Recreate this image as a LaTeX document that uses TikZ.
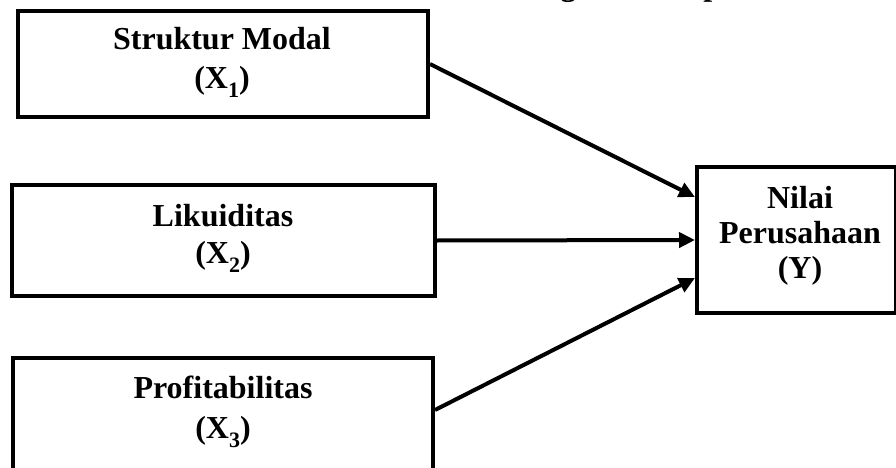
\documentclass[tikz,border=0pt]{standalone}
\usepackage{fontspec}
\setmainfont{Liberation Serif}
\usetikzlibrary{arrows.meta}
\newcommand{\mysub}[1]{\raisebox{-9pt}{\fontsize{22}{22}\selectfont #1}}
\begin{document}
\begin{tikzpicture}[x=1pt,y=-1pt,
  box/.style={draw,line width=4pt,inner sep=0pt},
  txt/.style={align=center,inner sep=0pt,font=\bfseries\fontsize{32}{#1}\selectfont},
  arr/.style={line width=4pt,-{Triangle[length=16pt,width=15pt]}}]
\useasboundingbox (0,0) rectangle (896,468);
\clip (0,0) rectangle (896,468);
\node[txt=38,anchor=base west] (title) at (473,-4.6) {Kerangka Konseptual};
\node[box,minimum width=410pt,minimum height=106pt] (b1) at (223,64) {};
\node[box,minimum width=423pt,minimum height=111pt] (b2) at (223.5,240.5) {};
\node[box,minimum width=420pt,minimum height=162pt] (b3) at (223,439) {};
\node[box,minimum width=199pt,minimum height=146pt] (y) at (796.5,240) {};
\node[txt=39] (t1) at (222,62) {Struktur Modal\\(X\mysub{1})};
\node[txt=37] (t2) at (223,238) {Likuiditas\\(X\mysub{2})};
\node[txt=40] (t3) at (223,411.5) {Profitabilitas\\(X\mysub{3})};
\node[txt=35] (ty) at (800,235.5) {Nilai\\Perusahaan\\(Y)};
\draw[arr] (b1.east) -- ([yshift=43pt]y.west);
\draw[arr] (b2.east) -- (y.west);
\draw[arr] ([yshift=29pt]b3.east) -- ([yshift=-38pt]y.west);
\end{tikzpicture}
\end{document}
